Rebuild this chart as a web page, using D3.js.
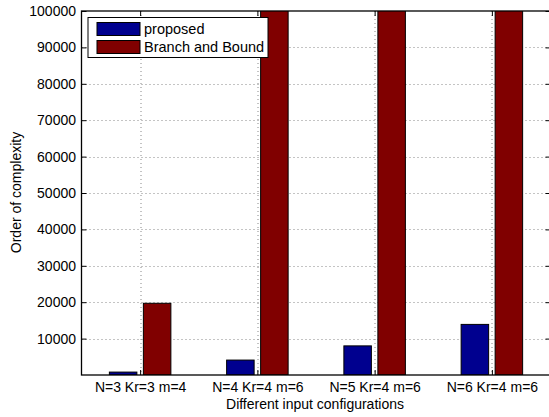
<!DOCTYPE html>
<html>
<head>
<meta charset="utf-8">
<script src="https://cdn.jsdelivr.net/npm/d3@7"></script>
<style>
  body { margin: 0; background: #fff; }
  text { font-family: "Liberation Sans", Arial, Helvetica, sans-serif; }
</style>
</head>
<body>
<div id="chart"></div>
<script>
// chart data
var categories = ["N=3 Kr=3 m=4", "N=4 Kr=4 m=6", "N=5 Kr=4 m=6", "N=6 Kr=4 m=6"];
var seriesNames = ["proposed", "Branch and Bound"];
var proposed = [800, 4100, 8000, 13900];
var branchAndBound = [19700, 400000, 2000000, 9000000];
var yTicks = [10000, 20000, 30000, 40000, 50000, 60000, 70000, 80000, 90000, 100000];
var colors = ["#00008f", "#800000"];

var W = 549, H = 417;
var margin = { left: 81.5, right: -1.5, top: 11, bottom: 42 };
var pw = W - margin.left - margin.right, ph = H - margin.top - margin.bottom;

var svg = d3.select("#chart").append("svg").attr("width", W).attr("height", H);
var g = svg.append("g").attr("transform", "translate(" + margin.left + "," + margin.top + ")");

// category positions 1..4 on a linear scale from 0.5 to 4.5 (like matlab bar)
var x = d3.scaleLinear().domain([0.5, 4.5]).range([0, pw]);
var y = d3.scaleLinear().domain([0, 100000]).range([ph, 0]);

g.append("clipPath").attr("id", "clip").append("rect").attr("width", pw).attr("height", ph);

// grid
var grid = g.append("g").attr("stroke", "#888").attr("stroke-width", 1).attr("stroke-dasharray", "1,3");
grid.selectAll(".gy").data(yTicks.slice(0, -1)).enter().append("line")
    .attr("x1", 0).attr("x2", pw)
    .attr("y1", function (d) { return Math.round(y(d)) + 0.5; })
    .attr("y2", function (d) { return Math.round(y(d)) + 0.5; });
grid.selectAll(".gx").data(categories).enter().append("line")
    .attr("x1", function (d, i) { return Math.round(x(i + 1)) + 0.5; })
    .attr("x2", function (d, i) { return Math.round(x(i + 1)) + 0.5; })
    .attr("y1", 0).attr("y2", ph);

// bars
var series = [proposed, branchAndBound];
var barW = 27.5, off = [-17, 17];
var bars = g.append("g").attr("clip-path", "url(#clip)");
series.forEach(function (vals, s) {
    bars.selectAll(".b" + s).data(vals).enter().append("rect")
        .attr("x", function (d, i) { return x(i + 1) + off[s] - barW / 2; })
        .attr("width", barW)
        .attr("y", function (d) { return y(d); })
        .attr("height", function (d) { return ph - y(d); })
        .attr("fill", colors[s])
        .attr("stroke", "#000")
        .attr("stroke-width", 1);
});

// axes box
g.append("rect").attr("x", 0).attr("y", 0).attr("width", pw).attr("height", ph)
    .attr("fill", "none").attr("stroke", "#000").attr("stroke-width", 1.3);

var yAxis = d3.axisLeft(y).tickValues(yTicks).tickSize(-5).tickPadding(5.5).tickFormat(d3.format("d"));
var yg = g.append("g").call(yAxis);
yg.select(".domain").remove();
var yAxisR = d3.axisRight(y).tickValues(yTicks).tickSize(-5).tickFormat("");
var ygr = g.append("g").attr("transform", "translate(" + pw + ",0)").call(yAxisR);
ygr.select(".domain").remove();

var xAxis = d3.axisBottom(x).tickValues([1, 2, 3, 4]).tickSize(-5).tickPadding(7)
    .tickFormat(function (d) { return categories[d - 1]; });
var xg = g.append("g").attr("transform", "translate(0," + ph + ")").call(xAxis);
xg.select(".domain").remove();
var xAxisT = d3.axisTop(x).tickValues([1, 2, 3, 4]).tickSize(-5).tickFormat("");
var xgt = g.append("g").call(xAxisT);
xgt.select(".domain").remove();

svg.selectAll(".tick text").attr("font-size", 14).attr("fill", "#000")
    .style("font-family", "'Liberation Sans', Arial, sans-serif");
svg.selectAll(".tick line").attr("stroke", "#000");

// axis titles
svg.append("text").attr("x", 315).attr("y", 409)
    .attr("text-anchor", "middle").attr("font-size", 14).text("Different input configurations");
svg.append("text").attr("transform", "translate(21,192.5) rotate(-90)")
    .attr("text-anchor", "middle").attr("font-size", 14).text("Order of complexity");

// legend
var lg = svg.append("g");
lg.append("rect").attr("x", 88).attr("y", 17.5).attr("width", 180).attr("height", 40)
    .attr("fill", "#fff").attr("stroke", "#000").attr("stroke-width", 1);
seriesNames.forEach(function (name, i) {
    lg.append("rect").attr("x", 97).attr("y", 22.5 + i * 18).attr("width", 43).attr("height", 13)
        .attr("fill", colors[i]).attr("stroke", "#000");
    lg.append("text").attr("x", 144).attr("y", 34 + i * 18).attr("font-size", 14.5).text(name);
});
</script>
</body>
</html>
